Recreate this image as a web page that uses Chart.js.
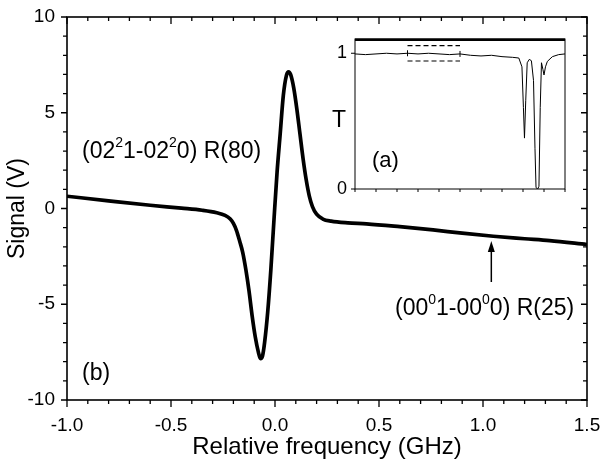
<!DOCTYPE html>
<html>
<head>
<meta charset="utf-8">
<script src="https://cdn.jsdelivr.net/npm/chart.js@4.4.0/dist/chart.umd.min.js"></script>
<style>
  html, body { margin: 0; padding: 0; background: #fff; }
  #wrap { position: relative; width: 603px; height: 464px; }
  #main { position: absolute; left: 0; top: 0; }
  #inset { position: absolute; left: 325px; top: 25px; }
</style>
</head>
<body>
<div id="wrap">
  <canvas id="main" width="603" height="464"></canvas>
  <canvas id="inset" width="250" height="175"></canvas>
</div>
<script>
// main trace (b): relative frequency (GHz) / signal (V)
const freq = [-1.0, -0.8, -0.6, -0.45, -0.35, -0.28, -0.24, -0.215, -0.2, -0.185,
  -0.17, -0.155, -0.14, -0.125, -0.11, -0.095, -0.08, -0.07, -0.06, -0.05,
  -0.035, -0.02, -0.005, 0.01, 0.025, 0.04, 0.055, 0.065, 0.075, 0.09,
  0.105, 0.12, 0.135, 0.15, 0.165, 0.18, 0.2, 0.23, 0.27, 0.35,
  0.44, 0.6, 0.76, 0.9, 1.05, 1.2, 1.32, 1.5];
const signal = [0.64, 0.40, 0.17, 0.02, -0.09, -0.22, -0.36, -0.55, -0.78, -1.15,
  -1.7, -2.3, -3.2, -4.3, -5.6, -6.7, -7.5, -7.84, -7.7, -7.0,
  -5.4, -3.2, -0.6, 1.9, 3.9, 5.9, 6.95, 7.14, 7.0, 6.3,
  5.2, 3.9, 2.6, 1.5, 0.65, 0.1, -0.3, -0.55, -0.66, -0.75,
  -0.80, -0.95, -1.12, -1.29, -1.45, -1.58, -1.68, -1.88];

// inset (a): transmission over the full scan (arbitrary x units)
const insetPos = [0, 0.5, 1.0, 1.5, 2.0, 2.5, 3.0, 3.5, 4.0, 4.5,
  5.0, 5.5, 6.0, 6.5, 7.0, 7.5, 7.8, 7.95, 8.02, 8.07,
  8.13, 8.2, 8.3, 8.4, 8.5, 8.57, 8.62, 8.7, 8.76, 8.82,
  8.88, 8.95, 9.0, 9.07, 9.16, 9.4, 9.7, 10];
const insetT = [0.995, 0.99, 0.995, 1.0, 0.995, 1.0, 0.995, 1.0, 0.995, 0.99,
  0.995, 0.985, 0.98, 0.985, 0.975, 0.97, 0.965, 0.9, 0.6, 0.375,
  0.65, 0.93, 0.955, 0.945, 0.8, 0.3, 0.01, 0.0, 0.02, 0.6,
  0.93, 0.88, 0.84, 0.9, 0.94, 0.975, 0.99, 0.995];
const boxX = [2.5, 5.0];
const boxTopT = [1.056, 1.056];
const boxBottomT = [0.943, 0.943];
const markT = [1.0, 0.995];

const xTicks = [-1.0, -0.5, 0.0, 0.5, 1.0, 1.5];
const yTicks = [-10, -5, 0, 5, 10];
const insetYTicks = [0, 1];

const FONT = '"Liberation Sans", Arial, Helvetica, sans-serif';

function stepValues(min, max, step) {
  const out = [];
  const n = Math.round((max - min) / step);
  for (let i = 0; i <= n; i++) out.push(min + i * step);
  return out;
}

function isMajor(v, major) {
  const r = v / major;
  return Math.abs(r - Math.round(r)) < 1e-6;
}

// no automatic label overhang padding, the plot box is set by layout padding
function noPad(s) {
  s.paddingLeft = 0; s.paddingRight = 0; s.paddingTop = 0; s.paddingBottom = 0;
}

// frame + tick marks (major and minor), drawn from the scales
const frameTicks = {
  id: 'frameTicks',
  afterDatasetsDraw(chart, args, o) {
    const { ctx, chartArea: a } = chart;
    const xs = chart.scales.x, ys = chart.scales.y;
    ctx.save();
    ctx.strokeStyle = '#000';
    ctx.lineWidth = o.tickWidth;
    ctx.beginPath();
    if (o.x) {
      stepValues(xs.min, xs.max, o.x.minor).forEach(v => {
        const px = xs.getPixelForValue(v);
        const len = isMajor(v, o.x.major) ? o.x.majorLen : o.x.minorLen;
        if (o.x.bottom) { ctx.moveTo(px, a.bottom); ctx.lineTo(px, a.bottom + o.x.bottom * len); }
        if (o.x.top) { ctx.moveTo(px, a.top); ctx.lineTo(px, a.top + o.x.top * len); }
      });
    }
    if (o.y) {
      stepValues(ys.min, ys.max, o.y.minor).forEach(v => {
        if (o.y.only && !o.y.only.includes(Math.round(v * 1000) / 1000)) return;
        const py = ys.getPixelForValue(v);
        const len = isMajor(v, o.y.major) ? o.y.majorLen : o.y.minorLen;
        if (o.y.left) { ctx.moveTo(a.left, py); ctx.lineTo(a.left + o.y.left * len, py); }
        if (o.y.right) { ctx.moveTo(a.right, py); ctx.lineTo(a.right + o.y.right * len, py); }
      });
    }
    ctx.stroke();

    // frame
    ctx.lineWidth = o.frameWidth;
    ctx.strokeRect(a.left, a.top, a.right - a.left, a.bottom - a.top);
    if (o.topWidth) {
      ctx.lineWidth = o.topWidth;
      ctx.beginPath();
      ctx.moveTo(a.left, a.top + o.topWidth / 2 - 0.5);
      ctx.lineTo(a.right, a.top + o.topWidth / 2 - 0.5);
      ctx.stroke();
    }
    ctx.restore();
  }
};

// text with superscripts: parts = [[text, isSup], ...]
function drawRich(ctx, parts, x, y, size) {
  let cx = x;
  parts.forEach(([t, sup]) => {
    const s = sup ? Math.round(size * 0.6) : size;
    ctx.font = s + 'px ' + FONT;
    ctx.fillText(t, cx, sup ? y - size * 0.47 : y);
    cx += ctx.measureText(t).width;
  });
}

const mainNotes = {
  id: 'mainNotes',
  afterDraw(chart) {
    const ctx = chart.ctx;
    ctx.save();
    ctx.fillStyle = '#000';
    ctx.textAlign = 'left';
    ctx.textBaseline = 'alphabetic';
    drawRich(ctx, [['(02', false], ['2', true], ['1-02', false], ['2', true], ['0) R(80)', false]], 82, 158, 23);
    drawRich(ctx, [['(00', false], ['0', true], ['1-00', false], ['0', true], ['0) R(25)', false]], 395, 315, 23);
    drawRich(ctx, [['(b)', false]], 82, 380, 23);

    // arrow pointing at the weak line
    const ax = chart.scales.x.getPixelForValue(1.04);
    ctx.strokeStyle = '#000';
    ctx.lineWidth = 1.5;
    ctx.beginPath();
    ctx.moveTo(ax, 282);
    ctx.lineTo(ax, 250);
    ctx.stroke();
    ctx.beginPath();
    ctx.moveTo(ax, 241);
    ctx.lineTo(ax - 3.5, 252);
    ctx.lineTo(ax + 3.5, 252);
    ctx.closePath();
    ctx.fill();
    ctx.restore();
  }
};

const insetNotes = {
  id: 'insetNotes',
  afterDraw(chart) {
    const ctx = chart.ctx;
    ctx.save();
    ctx.fillStyle = '#000';
    ctx.textBaseline = 'alphabetic';
    ctx.font = '23px ' + FONT;
    ctx.textAlign = 'center';
    ctx.fillText('T', 14, 102);
    ctx.textAlign = 'left';
    ctx.font = '22px ' + FONT;
    ctx.fillText('(a)', 47, 142);
    ctx.restore();
  }
};

new Chart(document.getElementById('main'), {
  type: 'scatter',
  data: {
    datasets: [{
      data: freq.map((f, i) => ({ x: f, y: signal[i] })),
      showLine: true,
      borderColor: '#000',
      borderWidth: 3.7,
      pointRadius: 0,
      cubicInterpolationMode: 'monotone',
      fill: false
    }]
  },
  options: {
    responsive: false,
    animation: false,
    layout: { padding: { top: 17, right: 16, left: 0, bottom: 0 } },
    plugins: {
      legend: { display: false },
      tooltip: { enabled: false },
      frameTicks: {
        tickWidth: 1.3, frameWidth: 1.6,
        x: { major: 0.5, minor: 0.1, majorLen: 7, minorLen: 4, bottom: 1, top: 1 },
        y: { major: 5, minor: 1, majorLen: 6, minorLen: 4, left: -1, right: -1 }
      }
    },
    scales: {
      x: {
        type: 'linear', min: -1, max: 1.5,
        afterBuildTicks: s => { s.ticks = xTicks.map(v => ({ value: v })); },
        afterFit: s => { s.height = 64; noPad(s); },
        grid: { display: false, drawTicks: false },
        border: { display: false },
        ticks: { padding: 14, color: '#000', font: { family: FONT, size: 19 }, callback: v => v.toFixed(1) },
        title: { display: true, text: 'Relative frequency (GHz)', color: '#000', font: { family: FONT, size: 24 }, padding: { top: 0, bottom: 2 } }
      },
      y: {
        type: 'linear', min: -10, max: 10,
        afterBuildTicks: s => { s.ticks = yTicks.map(v => ({ value: v })); },
        afterFit: s => { s.width = 67; noPad(s); },
        grid: { display: false, drawTicks: false },
        border: { display: false },
        ticks: { padding: 12, color: '#000', font: { family: FONT, size: 19 } },
        title: { display: true, text: 'Signal (V)', color: '#000', font: { family: FONT, size: 23 }, padding: { top: 4, bottom: 0 } }
      }
    }
  },
  plugins: [frameTicks, mainNotes]
});

new Chart(document.getElementById('inset'), {
  type: 'scatter',
  data: {
    datasets: [
      {
        data: insetPos.map((p, i) => ({ x: p, y: insetT[i] })),
        showLine: true, borderColor: '#000', borderWidth: 1, pointRadius: 0, tension: 0
      },
      {
        data: boxX.map((p, i) => ({ x: p, y: boxTopT[i] })),
        showLine: true, borderColor: '#000', borderWidth: 1.2, borderDash: [5, 3], pointRadius: 0
      },
      {
        data: boxX.map((p, i) => ({ x: p, y: boxBottomT[i] })),
        showLine: true, borderColor: '#000', borderWidth: 1.2, borderDash: [5, 3], pointRadius: 0
      },
      {
        data: boxX.map((p, i) => ({ x: p, y: markT[i] })),
        showLine: false, borderColor: '#000', borderWidth: 1, pointStyle: 'line', rotation: 90, pointRadius: 3
      }
    ]
  },
  options: {
    responsive: false,
    animation: false,
    layout: { padding: { top: 14, right: 10, left: 0, bottom: 0 } },
    plugins: {
      legend: { display: false },
      tooltip: { enabled: false },
      frameTicks: {
        tickWidth: 1, frameWidth: 1, topWidth: 2.5,
        x: { major: 1, minor: 1, majorLen: 3, minorLen: 3, bottom: 1 },
        y: { major: 1, minor: 1, majorLen: 4, minorLen: 4, left: -1, only: insetYTicks }
      }
    },
    scales: {
      x: {
        type: 'linear', min: 0, max: 10,
        afterFit: s => { s.height = 11; noPad(s); },
        grid: { display: false, drawTicks: false },
        border: { display: false },
        ticks: { display: false }
      },
      y: {
        type: 'linear', min: 0, max: 1.105,
        afterBuildTicks: s => { s.ticks = insetYTicks.map(v => ({ value: v })); },
        afterFit: s => { s.width = 30; noPad(s); },
        grid: { display: false, drawTicks: false },
        border: { display: false },
        ticks: { padding: 8, color: '#000', font: { family: FONT, size: 18 } }
      }
    }
  },
  plugins: [frameTicks, insetNotes]
});
</script>
</body>
</html>
